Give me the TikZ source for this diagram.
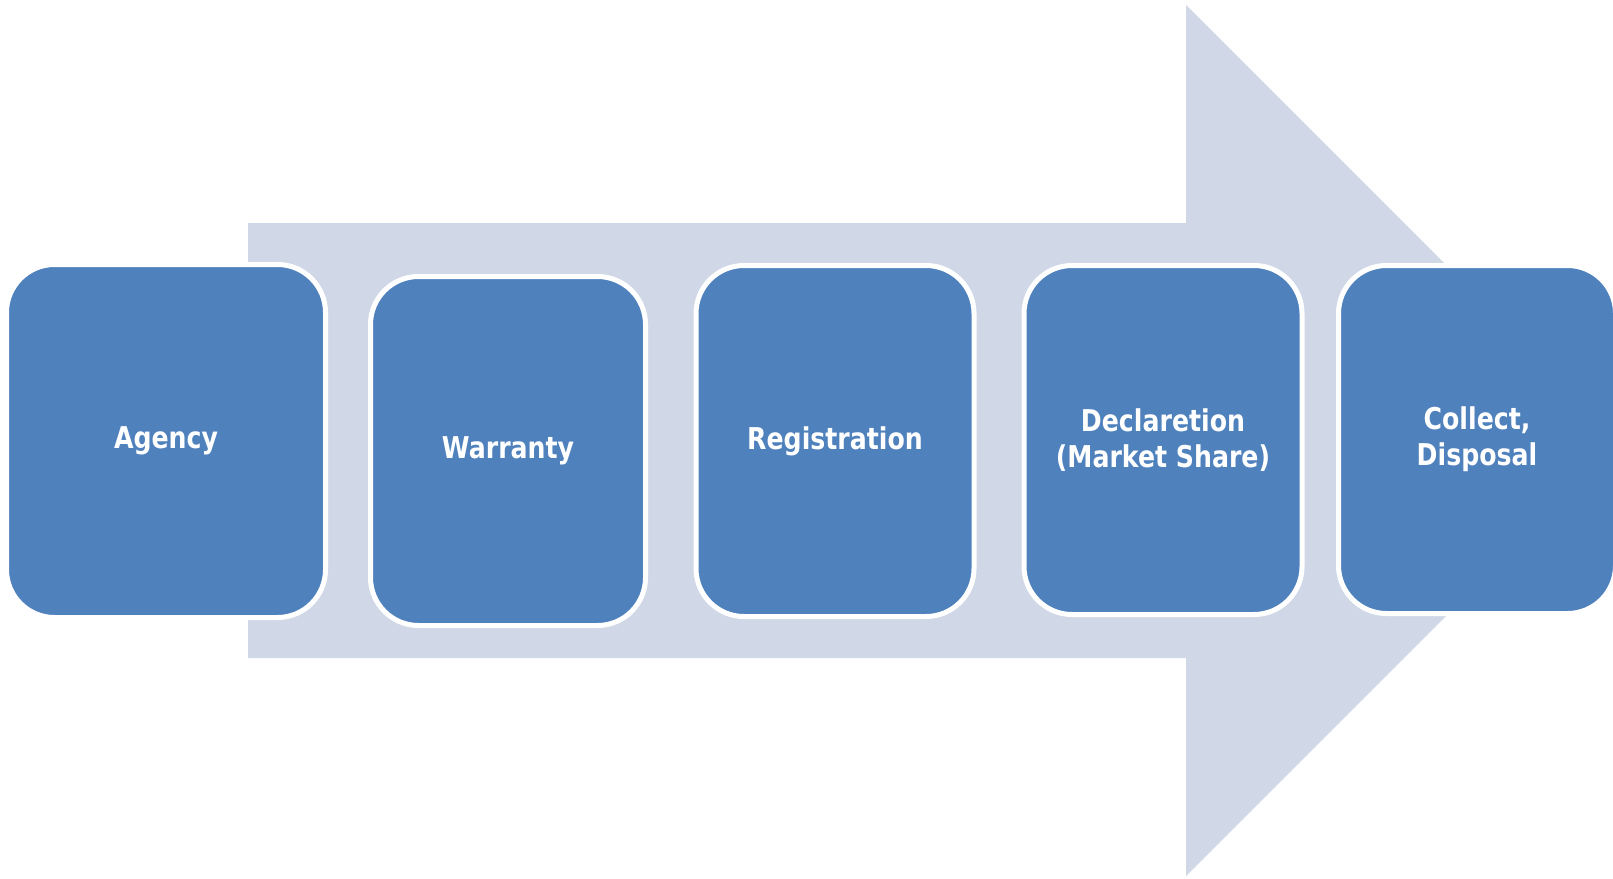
\documentclass[tikz,border=0pt]{standalone}
\usepackage{fontspec}
\setmainfont{DejaVu Sans}[FakeStretch=0.84]
\definecolor{boxblue}{RGB}{79,129,189}
\definecolor{arrowgray}{RGB}{208,216,232}
\begin{document}
\begin{tikzpicture}[x=1pt,y=-1pt,
  stepbox/.style={draw=white, line width=5pt, fill=boxblue, rounded corners=48pt,
    inner sep=0pt, outer sep=0pt, align=center, text=white,
    font=\fontsize{30}{36}\selectfont\bfseries},
  bigarrow/.style={fill=arrowgray, draw=none}]
\useasboundingbox (0,0) rectangle (1613,878);
\clip (0,0) rectangle (1613,878);
\fill[bigarrow] (248,223) -- (1186,223) -- (1186,5) -- (1621.5,440.5) -- (1186,876) -- (1186,658) -- (248,658) -- cycle;
\node[stepbox, minimum width=319pt, minimum height=353pt] (agency) at (166,441) {Agency};
\node[stepbox, minimum width=275pt, minimum height=349pt] (warranty) at (508,451) {Warranty};
\node[stepbox, minimum width=278pt, minimum height=351pt] (registration) at (835,441) {Registration};
\node[stepbox, minimum width=278pt, minimum height=349pt] (declaretion) at (1163,440) {Declaretion\\(Market Share)};
\node[stepbox, minimum width=277pt, minimum height=348pt] (collect) at (1477,439.5) {Collect,\\Disposal};
\end{tikzpicture}
\end{document}
